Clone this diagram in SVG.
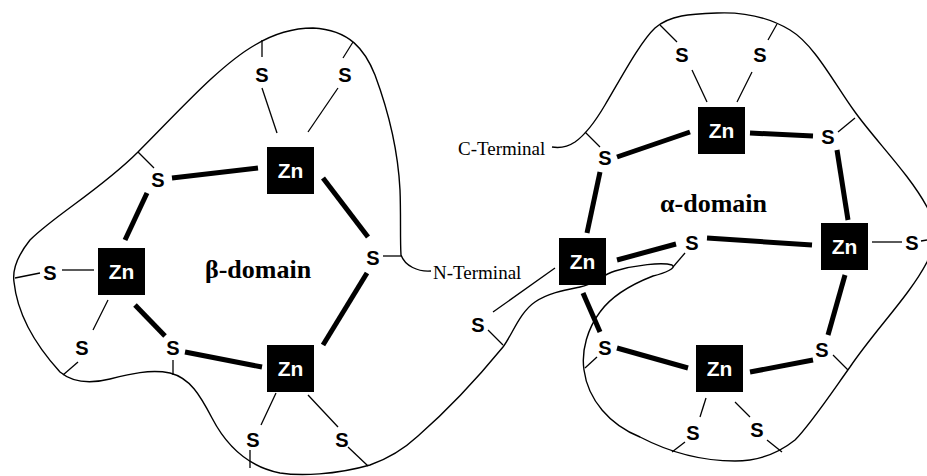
<svg xmlns="http://www.w3.org/2000/svg" width="927" height="476" viewBox="0 0 927 476">
  <style>
    .chain { fill: none; stroke: #000; stroke-width: 1.4; }
    .thin { stroke: #000; stroke-width: 1.3; fill: none; }
    .thick { stroke: #000; stroke-width: 5; fill: none; }
    .zn rect { fill: #000; }
    .zn text { fill: #fff; font-family: "Liberation Sans", Arial, sans-serif; font-weight: bold; font-size: 21px; text-anchor: middle; }
    .s { fill: #000; font-family: "Liberation Sans", Arial, sans-serif; font-weight: bold; font-size: 20px; text-anchor: middle; }
    .dom { fill: #000; font-family: "Liberation Serif", "Times New Roman", serif; font-weight: bold; font-size: 26px; }
    .term { fill: #000; font-family: "Liberation Serif", "Times New Roman", serif; font-size: 19px; }
  </style>
  <rect width="927" height="476" fill="#fff"/>

  <!-- protein backbone, N-terminus to C-terminus -->
  <g id="backbone">
    <path class="chain" d="M431,271 C418,272 405,266 401,255 C400,240 401,215 400,190 C398,150 388,110 375,75 C365,50 350,30 313,28 C290,28 270,36 255,45 C220,65 180,110 138,152 C100,190 55,215 30,240 C18,255 12,268 14,282 C18,320 40,350 60,372 C72,382 90,384 110,379 C130,374 150,369 170,373 C190,378 200,395 212,418 C225,443 245,466 280,473 C300,476 335,475 370,465 C390,458 405,448 418,436 C450,408 480,375 503,347 C512,335 520,312 535,302 C548,293 565,290 580,287 C595,284 600,276 615,271 C635,265 662,262 672,265 C677,268 665,273 653,276 C630,285 610,298 600,312 C588,328 581,350 584,370 C588,400 610,425 640,437 C665,450 695,461 735,461 C760,461 780,452 795,440 C810,425 830,395 850,367 C875,330 910,295 927,262 C937,240 935,222 927,207 C910,175 875,140 855,112 C835,85 815,45 790,30 C765,15 740,12 717,13 C690,14 670,15 655,28 C640,42 620,80 605,105 C595,122 585,135 575,142 C566,148 558,148 552,147"/>
  </g>

  <!-- bonds -->
  <g id="connectors">
    <!-- cysteine side chains to backbone and terminal Zn-S bonds -->
    <g class="thin">
      <line x1="262" y1="40" x2="262" y2="57"/>
      <line x1="262" y1="88" x2="277" y2="133"/>
      <line x1="353" y1="42" x2="343" y2="58"/>
      <line x1="338" y1="88" x2="308" y2="132"/>
      <line x1="138" y1="152" x2="154" y2="168"/>
      <line x1="15" y1="278" x2="40" y2="273"/>
      <line x1="62" y1="270" x2="94" y2="270"/>
      <line x1="108" y1="300" x2="93" y2="330"/>
      <line x1="78" y1="362" x2="63" y2="375"/>
      <line x1="173" y1="360" x2="173" y2="375"/>
      <line x1="276" y1="393" x2="261" y2="425"/>
      <line x1="250" y1="450" x2="250" y2="468"/>
      <line x1="308" y1="395" x2="338" y2="427"/>
      <line x1="348" y1="447" x2="368" y2="466"/>
      <line x1="383" y1="256" x2="401" y2="256"/>

      <line x1="660" y1="25" x2="677" y2="42"/>
      <line x1="692" y1="70" x2="707" y2="102"/>
      <line x1="777" y1="24" x2="768" y2="40"/>
      <line x1="752" y1="72" x2="737" y2="102"/>
      <line x1="585" y1="132" x2="600" y2="147"/>
      <line x1="838" y1="132" x2="855" y2="118"/>
      <line x1="872" y1="242" x2="902" y2="242"/>
      <line x1="921" y1="241" x2="927" y2="240"/>
      <line x1="833" y1="355" x2="848" y2="370"/>
      <line x1="706" y1="398" x2="700" y2="417"/>
      <line x1="685" y1="442" x2="672" y2="452"/>
      <line x1="735" y1="402" x2="750" y2="417"/>
      <line x1="767" y1="440" x2="782" y2="452"/>
      <line x1="673" y1="267" x2="685" y2="253"/>
      <line x1="493" y1="312" x2="555" y2="268"/>
      <line x1="488" y1="330" x2="503" y2="345"/>
      <line x1="597" y1="357" x2="585" y2="368"/>
    </g>
    <!-- bridging Zn-S bonds -->
    <g class="thick">
      <line x1="172" y1="178" x2="258" y2="168"/>
      <line x1="323" y1="178" x2="368" y2="237"/>
      <line x1="147" y1="193" x2="125" y2="240"/>
      <line x1="135" y1="305" x2="165" y2="336"/>
      <line x1="185" y1="352" x2="262" y2="367"/>
      <line x1="367" y1="273" x2="323" y2="345"/>

      <line x1="690" y1="132" x2="617" y2="157"/>
      <line x1="750" y1="133" x2="813" y2="136"/>
      <line x1="600" y1="172" x2="587" y2="233"/>
      <line x1="837" y1="150" x2="848" y2="220"/>
      <line x1="617" y1="260" x2="676" y2="244"/>
      <line x1="707" y1="238" x2="812" y2="245"/>
      <line x1="583" y1="293" x2="600" y2="332"/>
      <line x1="617" y1="348" x2="688" y2="368"/>
      <line x1="750" y1="372" x2="813" y2="360"/>
      <line x1="845" y1="275" x2="828" y2="335"/>
    </g>
  </g>

  <!-- beta domain zinc ions -->
  <g id="zn-b1" class="zn"><rect x="267" y="147" width="47" height="47"/><text x="290.5" y="178">Zn</text></g>
  <g id="zn-b2" class="zn"><rect x="98" y="248" width="47" height="47"/><text x="121.5" y="279">Zn</text></g>
  <g id="zn-b3" class="zn"><rect x="267" y="345" width="47" height="47"/><text x="290.5" y="376">Zn</text></g>

  <!-- alpha domain zinc ions -->
  <g id="zn-a1" class="zn"><rect x="698" y="107" width="47" height="47"/><text x="721.5" y="138">Zn</text></g>
  <g id="zn-a2" class="zn"><rect x="559" y="238" width="47" height="47"/><text x="582.5" y="269">Zn</text></g>
  <g id="zn-a3" class="zn"><rect x="821" y="223" width="47" height="47"/><text x="844.5" y="254">Zn</text></g>
  <g id="zn-a4" class="zn"><rect x="696" y="345" width="47" height="47"/><text x="719.5" y="376">Zn</text></g>

  <!-- beta domain sulfur atoms -->
  <g id="s-b1"><text class="s" x="262" y="82">S</text></g>
  <g id="s-b2"><text class="s" x="345" y="82">S</text></g>
  <g id="s-b3"><text class="s" x="158" y="187">S</text></g>
  <g id="s-b4"><text class="s" x="373" y="265">S</text></g>
  <g id="s-b5"><text class="s" x="173" y="355">S</text></g>
  <g id="s-b6"><text class="s" x="50" y="280">S</text></g>
  <g id="s-b7"><text class="s" x="82" y="355">S</text></g>
  <g id="s-b8"><text class="s" x="253" y="447">S</text></g>
  <g id="s-b9"><text class="s" x="342" y="447">S</text></g>

  <!-- alpha domain sulfur atoms -->
  <g id="s-a1"><text class="s" x="682" y="62">S</text></g>
  <g id="s-a2"><text class="s" x="760" y="62">S</text></g>
  <g id="s-a3"><text class="s" x="605" y="165">S</text></g>
  <g id="s-a4"><text class="s" x="828" y="144">S</text></g>
  <g id="s-a5"><text class="s" x="692" y="250">S</text></g>
  <g id="s-a6"><text class="s" x="605" y="355">S</text></g>
  <g id="s-a7"><text class="s" x="822" y="357">S</text></g>
  <g id="s-a8"><text class="s" x="693" y="440">S</text></g>
  <g id="s-a9"><text class="s" x="757" y="437">S</text></g>
  <g id="s-a10"><text class="s" x="912" y="250">S</text></g>
  <g id="s-a11"><text class="s" x="478" y="332">S</text></g>

  <!-- labels -->
  <g id="beta-label"><text class="dom" x="205" y="278">β-domain</text></g>
  <g id="alpha-label"><text class="dom" x="660" y="212">α-domain</text></g>
  <g id="c-terminal"><text class="term" x="458" y="155">C-Terminal</text></g>
  <g id="n-terminal"><text class="term" x="433" y="279">N-Terminal</text></g>
</svg>
